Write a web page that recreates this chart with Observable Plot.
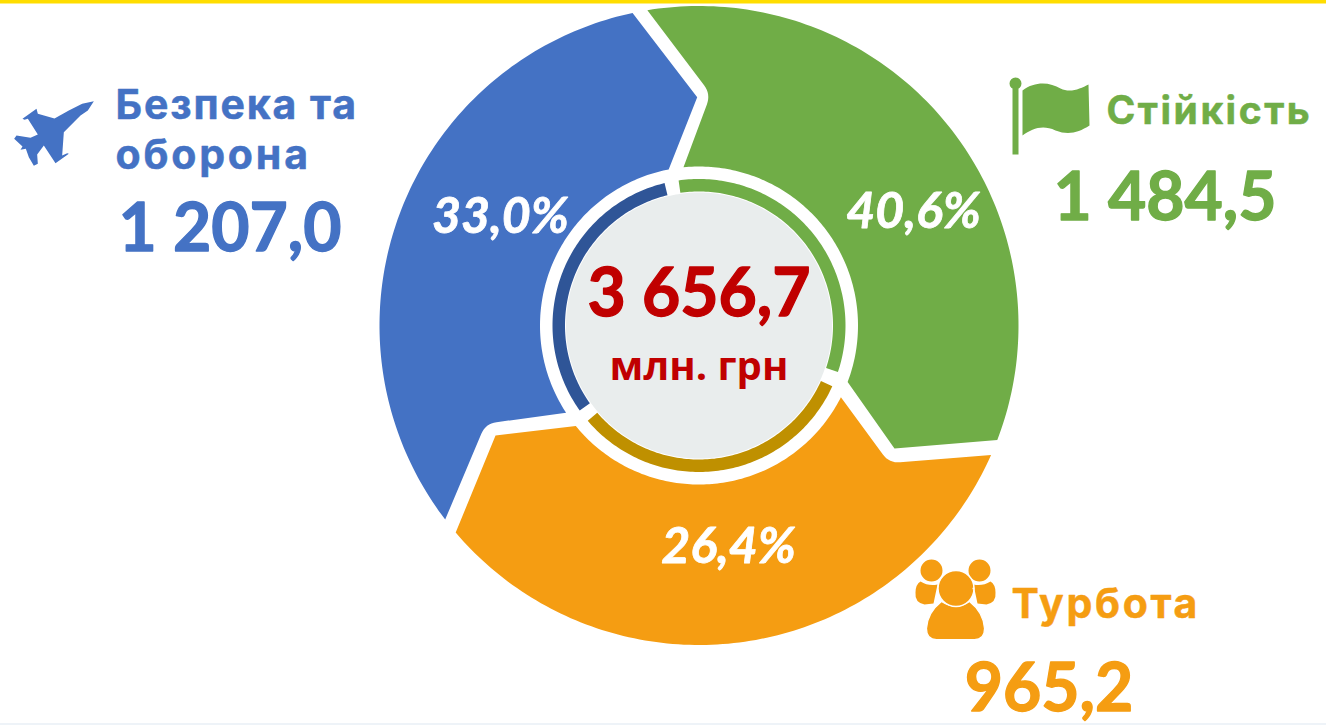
<!DOCTYPE html>
<html>
<head>
<meta charset="utf-8">
<script src="https://cdn.jsdelivr.net/npm/d3@7"></script>
<script src="https://cdn.jsdelivr.net/npm/@observablehq/plot@0.6"></script>
<style>
html,body{margin:0;padding:0;background:#fff;overflow:hidden}
svg{display:block}
.name0{letter-spacing:1.9px}
.name1{letter-spacing:2.8px}
.name2{letter-spacing:2.5px}
.name3{letter-spacing:2.7px}
</style>
</head>
<body>
<div id="chart"></div>
<script>
// ---- values ----
const categories = ["Безпека та оборона", "Стійкість", "Турбота"];
const values = [1207.0, 1484.5, 965.2];
const unit = "млн. грн";

// ---- styles ----
const sliceColors = ["#4472C4", "#70AD47", "#F59D12"];
const ringColors = ["#2F5597", "#70AD47", "#BF9000"];
const red = "#C00000";

// ---- polar layout of the artwork (the slices are drawn as near-equal thirds, as in the source) ----
const cx = 698.5, cy = 325, R = 319.5, ri = 159;
// outer arc [from, to]; corners [angle, radius, rounding]; inner arc [from, to]
const outlines = [
  {outer: [232.6, 348], after: [[359.55, 228.3, 0]], inner: [349, 236.7], before: [[245.3, 234.9, 11]]},
  {outer: [-9.3, 111], after: [[122.2, 231, 0]], inner: [110.8, -5.6], before: [[2.9, 231.7, 11]]},
  {outer: [113.9, 229.6], after: [[241.6, 231.3, 0]], inner: [230.8, 116.8], before: [[125.9, 234.8, 11]]}
];
const ringArcs = [[234.5, 346.4], [-8, 108.5], [114.5, 229.4]];
const ringIn = 134, ringOut = 146.5, discR = 133;

const pol = (a, r) => {
  const t = a * Math.PI / 180;
  return [cx + r * Math.sin(t), cy - r * Math.cos(t)];
};
const arc = (a0, a1, r) => {
  const n = Math.max(2, Math.ceil(Math.abs(a1 - a0)));
  return d3.range(n + 1).map(i => pol(a0 + (a1 - a0) * i / n, r));
};
// replaces a corner by a short quadratic curve
function roundCorner(prev, c, next, d) {
  if (!d) return [c];
  const toward = (p, q, s) => {
    const L = Math.hypot(q[0] - p[0], q[1] - p[1]);
    return [p[0] + (q[0] - p[0]) * s / L, p[1] + (q[1] - p[1]) * s / L];
  };
  const a = toward(c, prev, d), b = toward(c, next, d);
  return d3.range(9).map(i => {
    const t = i / 8, u = 1 - t;
    return [u * u * a[0] + 2 * u * t * c[0] + t * t * b[0], u * u * a[1] + 2 * u * t * c[1] + t * t * b[1]];
  });
}
const slicePoints = outlines.map(o => {
  const outer = arc(o.outer[0], o.outer[1], R);
  const inner = arc(o.inner[0], o.inner[1], ri);
  const c1 = pol(o.after[0][0], o.after[0][1]);
  const c2 = pol(o.before[0][0], o.before[0][1]);
  const mid1 = roundCorner(outer[outer.length - 1], c1, inner[0], o.after[0][2]);
  const mid2 = roundCorner(inner[inner.length - 1], c2, outer[0], o.before[0][2]);
  return [...outer, ...mid1, ...inner, ...mid2];
});
const ringPoints = ringArcs.map(([a, b]) => [...arc(a, b, ringOut), ...arc(b, a, ringIn)]);
const discPoints = arc(0, 360, discR);

// ---- text ----
const total = d3.sum(values);
const loc = d3.formatLocale({decimal: ",", thousands: " ", grouping: [3], currency: ["", ""]});
const fmt = loc.format(",.1f");
const pct = v => loc.format(".1f")(v / total * 100) + "%";

const nameFont = "Inter", numFont = "Lato";
const nameRows = [
  [{t: "Безпека та", x: 115, y: 118, c: 0, s: 41}],
  [{t: "оборона", x: 115, y: 168, c: 0, s: 41}],
  [{t: categories[1], x: 1106, y: 123, c: 1, s: 39}],
  [{t: categories[2], x: 1011, y: 617, c: 2, s: 41}]
];
const numRows = [
  {t: fmt(values[0]), x: 229.5, y: 250, c: 0},
  {t: fmt(values[1]), x: 1164.5, y: 219, c: 1},
  {t: fmt(values[2]), x: 1048.5, y: 710, c: 2}
];
const pctRows = [
  {t: pct(values[0]), x: 500, y: 232},
  {t: pct(values[1]), x: 913, y: 227},
  {t: pct(values[2]), x: 728, y: 562}
];

// ---- icons: custom dot symbols, drawn around the dot's centre ----
const poly = (ctx, pts) => { pts.forEach((p, i) => i ? ctx.lineTo(p[0], p[1]) : ctx.moveTo(p[0], p[1])); ctx.closePath(); };
const jet = {draw(ctx) {
  const z = [[280,122],[245,130],[205,150],[162,174],[112,160],[108,145],[66,175],[72,178],[82,175],[112,222],[90,232],[48,225],[41,235],[66,258],[60,268],[76,265],[85,290],[100,316],[112,310],[110,282],[130,255],[165,308],[205,280],[200,278],[185,285],[190,215],[240,165],[262,150]];
  poly(ctx, z.map(([x, y]) => [x / 3, y / 3]));
}};
const flag = {draw(ctx) {
  ctx.moveTo(22, 30);
  ctx.bezierCurveTo(35, 20, 50, 22, 60, 28);
  ctx.bezierCurveTo(70, 33, 80, 28, 88, 24);
  ctx.lineTo(89, 65);
  ctx.bezierCurveTo(78, 72, 68, 75, 55, 70);
  ctx.bezierCurveTo(42, 64, 32, 68, 22, 75);
  ctx.closePath();
  ctx.moveTo(12, 28); ctx.lineTo(18, 28); ctx.lineTo(18, 94); ctx.lineTo(12, 94); ctx.closePath();
  ctx.moveTo(21, 23); ctx.arc(15, 23, 6, 0, 2 * Math.PI);
}};
const sideBody = {draw(ctx) {
  // left-hand side body and its mirror
  ctx.moveTo(20, 41); ctx.quadraticCurveTo(28, 46, 37, 44); ctx.lineTo(33, 63); ctx.lineTo(24, 64);
  ctx.quadraticCurveTo(14, 62, 15, 52); ctx.quadraticCurveTo(15, 44, 20, 41); ctx.closePath();
  ctx.moveTo(90, 41); ctx.quadraticCurveTo(82, 46, 73, 44); ctx.lineTo(77, 63); ctx.lineTo(86, 64);
  ctx.quadraticCurveTo(96, 62, 95, 52); ctx.quadraticCurveTo(95, 44, 90, 41); ctx.closePath();
  ctx.moveTo(42, 30); ctx.arc(31, 30, 11, 0, 2 * Math.PI);
  ctx.moveTo(90, 30); ctx.arc(79, 30, 11, 0, 2 * Math.PI);
}};
const midBody = {draw(ctx) {
  ctx.moveTo(41, 61); ctx.quadraticCurveTo(55, 70, 69, 61);
  ctx.quadraticCurveTo(83, 72, 84, 88); ctx.quadraticCurveTo(84, 99, 74, 99);
  ctx.lineTo(36, 99); ctx.quadraticCurveTo(26, 99, 26, 88); ctx.quadraticCurveTo(27, 72, 41, 61); ctx.closePath();
}};
const midHead = {draw(ctx) {
  ctx.moveTo(72, 48); ctx.ellipse ? ctx.ellipse(55.5, 48, 16.5, 19.5, 0, 0, 2 * Math.PI) : ctx.arc(55.5, 48, 18, 0, 2 * Math.PI);
}};

const chart = Plot.plot({
  width: 1326, height: 725,
  margin: 0,
  x: {domain: [0, 1326], range: [0, 1326], axis: null},
  y: {domain: [0, 725], range: [0, 725], axis: null},
  marks: [
    Plot.rect([0], {x1: 0, x2: 1326, y1: 0, y2: 3.5, fill: "#FFDD00"}),
    Plot.rect([0], {x1: 0, x2: 1326, y1: 723, y2: 725, fill: "#EEF3F8"}),
    ...slicePoints.map((pts, i) => Plot.line(pts, {x: d => d[0], y: d => d[1], fill: sliceColors[i], stroke: "none", curve: "linear"})),
    ...ringPoints.map((pts, i) => Plot.line(pts, {x: d => d[0], y: d => d[1], fill: ringColors[i], stroke: "none", curve: "linear"})),
    Plot.line(discPoints, {x: d => d[0], y: d => d[1], fill: "#E9EDED", stroke: "none", curve: "linear"}),
    ...nameRows.map((rows, i) => Plot.text(rows, {x: "x", y: "y", text: "t", fill: d => sliceColors[d.c], stroke: d => sliceColors[d.c], strokeWidth: 0.5, fontSize: "s", fontFamily: nameFont, fontWeight: 700, textAnchor: "start", lineAnchor: "bottom", className: "name" + i})),
    Plot.text(numRows, {x: "x", y: "y", text: "t", fill: d => sliceColors[d.c], stroke: d => sliceColors[d.c], strokeWidth: 1.3, fontSize: 66, fontFamily: numFont, fontWeight: 700, textAnchor: "middle", lineAnchor: "bottom"}),
    Plot.text(pctRows, {x: "x", y: "y", text: "t", fill: "#fff", stroke: "#fff", strokeWidth: 0.8, fontSize: 50, fontFamily: numFont, fontWeight: 700, fontStyle: "italic", textAnchor: "middle", lineAnchor: "bottom"}),
    Plot.text([fmt(total)], {x: 698.5, y: 315, text: d => d, fill: red, stroke: red, strokeWidth: 1.3, fontSize: 66, fontFamily: numFont, fontWeight: 700, textAnchor: "middle", lineAnchor: "bottom"}),
    Plot.text([unit], {x: 698.5, y: 379, text: d => d, fill: red, fontSize: 40, fontFamily: "Open Sans", fontWeight: 700, textAnchor: "middle", lineAnchor: "bottom"}),
    Plot.dot([0], {x: 0, y: 60, r: 1, symbol: jet, fill: sliceColors[0], stroke: "none"}),
    Plot.dot([0], {x: 1000, y: 60, r: 1, symbol: flag, fill: sliceColors[1], stroke: "none"}),
    Plot.dot([0], {x: 900, y: 540, r: 1, symbol: sideBody, fill: sliceColors[2], stroke: "none"}),
    Plot.dot([0], {x: 900, y: 540, r: 1, symbol: midBody, fill: sliceColors[2], stroke: "#fff", strokeWidth: 1.2}),
    Plot.dot([0], {x: 900, y: 540, r: 1, symbol: midHead, fill: sliceColors[2], stroke: "#fff", strokeWidth: 1.5})
  ]
});
document.getElementById("chart").appendChild(chart);
</script>
</body>
</html>
